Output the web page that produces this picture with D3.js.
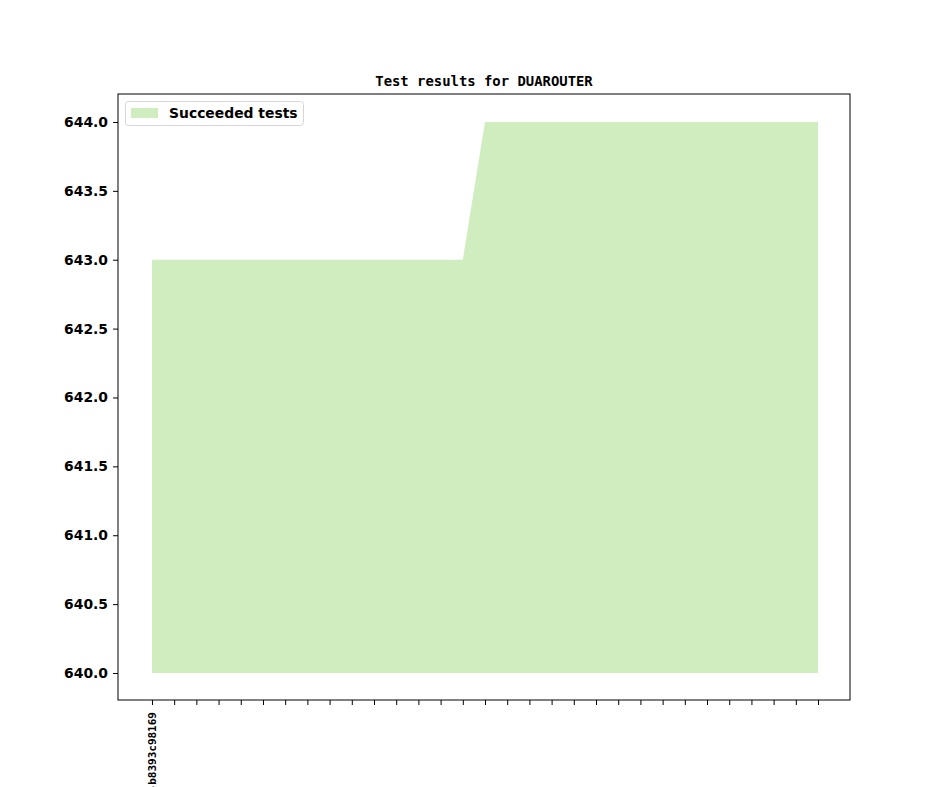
<!DOCTYPE html>
<html>
<head>
  <meta charset="UTF-8">
  <style>
    body { margin: 0; background: #fff; }
    text { fill: #000; }
  </style>
</head>
<body>
<svg></svg>
<script src="https://d3js.org/d3.v7.min.js"></script>
<script>

    let width = 944;
    let height = 787;

    // one entry per commit, only the first one has a label
    let commits = ["v1_8_0+0123-b8393c98169"];
    for (let i = 1; i < 31; i++) commits.push("");

    let succeeded = [643, 643, 643, 643, 643, 643, 643, 643, 643, 643, 643, 643, 643, 643, 643,
                     644, 644, 644, 644, 644, 644, 644, 644, 644, 644, 644, 644, 644, 644, 644, 644];
    let baseline = 640;
    let yTicks = [640.0, 640.5, 641.0, 641.5, 642.0, 642.5, 643.0, 643.5, 644.0];

    let mLeft = 118, mRight = 850, mTop = 94, mBottom = 700;

    let svg = d3.select("svg")
        .attr("width", width)
        .attr("height", height);

    let x = d3.scaleLinear()
        .domain([-1.53, commits.length - 1 + 1.44])
        .range([mLeft, mRight]);

    let y = d3.scaleLinear()
        .domain([639.804, 644.203])
        .range([mBottom, mTop]);

    // filled area
    let area = d3.area()
        .x((d, i) => x(i))
        .y0(y(baseline))
        .y1(d => y(d));

    svg.append("path")
        .datum(succeeded)
        .attr("d", area)
        .attr("fill", "#cfedbe");

    // y axis
    let yAxis = svg.append("g")
        .attr("transform", "translate(" + mLeft + ",0)")
        .call(d3.axisLeft(y).tickValues(yTicks).tickFormat(d3.format(".1f")).tickSize(5).tickPadding(5));
    yAxis.select(".domain").remove();
    yAxis.selectAll("text")
        .style("font-family", "DejaVu Sans")
        .style("font-weight", "bold")
        .style("font-size", "13.9px");

    // x axis
    let xAxis = svg.append("g")
        .attr("transform", "translate(0," + mBottom + ")")
        .call(d3.axisBottom(x).tickValues(d3.range(commits.length)).tickFormat(i => commits[i]).tickSize(5).tickPadding(5));
    xAxis.select(".domain").remove();
    xAxis.selectAll("text")
        .attr("transform", "rotate(-90)")
        .attr("x", -12)
        .attr("y", 0)
        .attr("dy", "0.35em")
        .attr("text-anchor", "end")
        .style("font-family", "DejaVu Sans Mono")
        .style("font-weight", "bold")
        .style("font-size", "11px");

    // frame
    svg.append("rect")
        .attr("x", mLeft)
        .attr("y", mTop)
        .attr("width", mRight - mLeft)
        .attr("height", mBottom - mTop)
        .attr("fill", "none")
        .attr("stroke", "#000")
        .attr("stroke-width", 1);

    // title
    svg.append("text")
        .attr("x", (mLeft + mRight) / 2)
        .attr("y", 86)
        .attr("text-anchor", "middle")
        .style("font-family", "DejaVu Sans Mono")
        .style("font-weight", "bold")
        .style("font-size", "13.9px")
        .text("Test results for DUAROUTER");

    // legend
    let legend = svg.append("g");
    legend.append("rect")
        .attr("x", 125.5)
        .attr("y", 101.5)
        .attr("width", 178)
        .attr("height", 24)
        .attr("rx", 3)
        .attr("fill", "#fff")
        .attr("fill-opacity", 0.8)
        .attr("stroke", "#d6d6d6");
    legend.append("rect")
        .attr("x", 131)
        .attr("y", 108)
        .attr("width", 27)
        .attr("height", 10)
        .attr("fill", "#cfedbe");
    legend.append("text")
        .attr("x", 169)
        .attr("y", 118)
        .style("font-family", "DejaVu Sans")
        .style("font-weight", "bold")
        .style("font-size", "13.9px")
        .text("Succeeded tests");

</script>
</body>
</html>
